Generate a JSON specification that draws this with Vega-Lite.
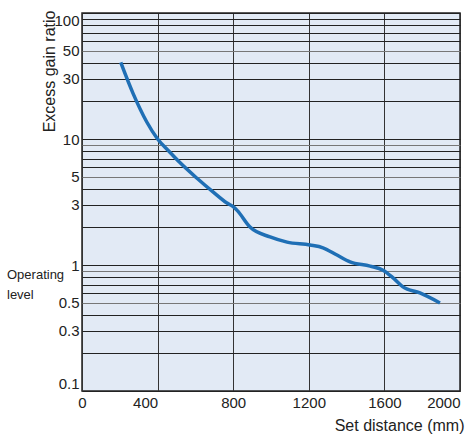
{
  "$schema": "https://vega.github.io/schema/vega-lite/v6.json",
  "width": 378,
  "height": 378,
  "autosize": {"type": "none"},
  "padding": {"left": 82, "top": 13, "right": 7, "bottom": 44},
  "background": "white",
  "config": {
    "font": "Liberation Sans",
    "view": {"fill": "#e2eaf5", "stroke": "#222222", "strokeWidth": 1.5},
    "axis": {
      "ticks": false,
      "tickSize": 0,
      "domain": false,
      "labelColor": "#222222",
      "titleColor": "#222222",
      "labelFontSize": 15,
      "titleFontSize": 16,
      "titleFontWeight": "normal",
      "gridOpacity": 1,
      "gridWidth": 1
    }
  },
  "layer": [
    {
      "data": {
        "values": [
          {"distance": 205, "ratio": 40.5},
          {"distance": 270, "ratio": 23},
          {"distance": 342, "ratio": 13.7},
          {"distance": 400, "ratio": 10},
          {"distance": 460, "ratio": 8.0},
          {"distance": 518, "ratio": 6.5},
          {"distance": 607, "ratio": 4.9},
          {"distance": 693, "ratio": 3.8},
          {"distance": 767, "ratio": 3.1},
          {"distance": 800, "ratio": 2.9},
          {"distance": 822, "ratio": 2.7},
          {"distance": 889, "ratio": 2.0},
          {"distance": 995, "ratio": 1.67},
          {"distance": 1085, "ratio": 1.52},
          {"distance": 1206, "ratio": 1.44},
          {"distance": 1275, "ratio": 1.37},
          {"distance": 1349, "ratio": 1.2},
          {"distance": 1418, "ratio": 1.06},
          {"distance": 1524, "ratio": 0.98},
          {"distance": 1593, "ratio": 0.91},
          {"distance": 1646, "ratio": 0.79},
          {"distance": 1698, "ratio": 0.67},
          {"distance": 1788, "ratio": 0.6},
          {"distance": 1894, "ratio": 0.5}
        ]
      },
      "mark": {"type": "line", "color": "#1f6fb5", "strokeWidth": 3.5, "interpolate": "monotone", "clip": true},
      "encoding": {
        "x": {
          "field": "distance",
          "type": "quantitative",
          "scale": {"domain": [0, 2000], "nice": false, "zero": false},
          "axis": {
            "title": "Set distance (mm)",
            "values": [0, 400, 800, 1200, 1600, 2000],
            "format": "d",
            "grid": true,
            "gridColor": "#333333",
            "labelPadding": 4,
            "labelAlign": {"condition": {"test": "datum.value == 400 || datum.value == 2000", "value": "right"}, "value": "center"},
            "titleAlign": "right",
            "titleBaseline": "alphabetic",
            "titleX": 382,
            "titleY": 39
          }
        },
        "y": {
          "field": "ratio",
          "type": "quantitative",
          "scale": {"type": "log", "domain": [0.1, 100], "nice": false},
          "axis": {
            "title": "Excess gain ratio",
            "values": [0.1, 0.2, 0.3, 0.4, 0.5, 0.6, 0.7, 0.8, 0.9, 1, 2, 3, 4, 5, 6, 7, 8, 9, 10, 20, 30, 40, 50, 60, 70, 80, 90, 100],
            "labelExpr": "indexof([0.1, 0.3, 0.5, 1, 3, 5, 10, 30, 50, 100], datum.value) >= 0 ? '' + datum.value : ''",
            "labelFlush": true,
            "labelPadding": 3,
            "grid": true,
            "gridColor": {"condition": {"test": "indexof([0.5, 0.9, 5, 9, 50], datum.value) >= 0", "value": "#777777"}, "value": "#222222"},
            "titleAlign": "right",
            "titleBaseline": "bottom",
            "titleAngle": -90,
            "titleX": -25,
            "titleY": -3
          }
        }
      }
    },
    {
      "data": {"values": [{"note": "Operating level", "level": 1}]},
      "mark": {"type": "text", "align": "left", "baseline": "middle", "lineHeight": 20, "dx": -75, "dy": 10, "fontSize": 13, "color": "#222222"},
      "encoding": {
        "x": {"datum": 0},
        "y": {"field": "level", "type": "quantitative"},
        "text": {"value": ["Operating", "level"]}
      }
    }
  ]
}
